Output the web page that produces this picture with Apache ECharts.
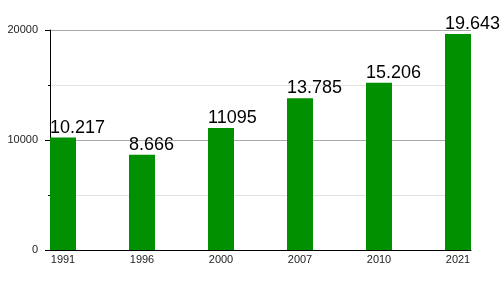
<!DOCTYPE html>
<html><head><meta charset="utf-8">
<script src="https://cdn.jsdelivr.net/npm/echarts@6/dist/echarts.min.js"></script>
<style>html,body{margin:0;padding:0;background:#fff}#c{width:500px;height:300px}</style>
</head><body><div id="c"></div>
<script>
const categories = ['1991', '1996', '2000', '2007', '2010', '2021'];
const values = [10217, 8666, 11095, 13785, 15206, 19643];
const labelTexts = ['10.217', '8.666', '11095', '13.785', '15.206', '19.643'];
const yTicks = [0, 10000, 20000];

const chart = echarts.init(document.getElementById('c'), null, {renderer: 'canvas'});
const pad = 13 / 79;
chart.setOption({
  animation: false,
  textStyle: {fontFamily: 'Liberation Sans, Arial, sans-serif'},
  grid: {left: 50, right: 29, top: 30, bottom: 50},
  xAxis: {
    type: 'value', min: -pad, max: categories.length - 1 + pad,
    axisLine: {show: true, onZero: false, lineStyle: {color: '#000', width: 1}},
    axisTick: {show: false},
    splitLine: {show: false},
    axisLabel: {
      customValues: categories.map((c, i) => i),
      formatter: v => categories[Math.round(v)] || '',
      color: '#222', fontSize: 11, margin: 4
    }
  },
  yAxis: {
    type: 'value', min: yTicks[0], max: yTicks[yTicks.length - 1], interval: 10000,
    axisLine: {show: true, onZero: false, lineStyle: {color: '#000', width: 1}},
    axisTick: {show: true, length: 5, lineStyle: {color: '#000'}},
    minorTick: {show: true, splitNumber: 2, length: 2, lineStyle: {color: '#000'}},
    splitLine: {show: true, lineStyle: {color: '#aaa', width: 1}},
    minorSplitLine: {show: true, lineStyle: {color: '#e2e2e2', width: 1}},
    axisLabel: {color: '#222', fontSize: 11, margin: 12, formatter: v => String(v)}
  },
  series: [{
    type: 'bar',
    barWidth: 26,
    itemStyle: {color: '#009000'},
    data: values.map((v, i) => [i, v]),
    label: {
      show: true,
      position: [0, -1],
      verticalAlign: 'bottom',
      align: 'left',
      fontSize: 18,
      color: '#000',
      formatter: p => labelTexts[p.dataIndex]
    }
  }]
});
</script></body></html>
